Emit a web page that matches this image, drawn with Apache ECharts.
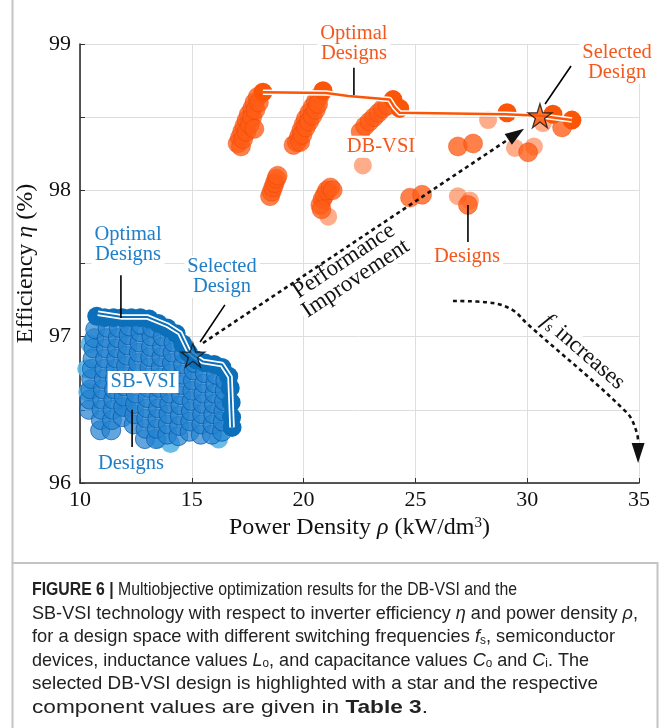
<!DOCTYPE html>
<html><head><meta charset="utf-8">
<script src="https://cdn.jsdelivr.net/npm/echarts@6/dist/echarts.min.js"></script>
<style>html,body{margin:0;padding:0;background:#fff}#c{width:665px;height:728px}</style>
</head><body><div id="c"></div>
<script>
// ---------------- DATA ----------------
const xTickValues = [10, 15, 20, 25, 30, 35];
const yTickValues = [96, 97, 98, 99];

// SB-VSI designs (power density kW/dm3, efficiency %)
const blueDesigns = [
  [10.40,96.50],[10.43,96.57],[10.46,96.64],[10.50,96.71],[10.53,96.78],[10.56,96.85],[10.60,96.92],[10.64,96.99],[10.68,97.05],
  [10.90,96.36],[10.93,96.43],[10.96,96.50],[10.99,96.57],[11.02,96.64],[11.06,96.71],[11.09,96.78],[11.12,96.85],[11.16,96.92],[11.19,96.99],[11.23,97.06],
  [11.40,96.36],[11.43,96.43],[11.46,96.50],[11.49,96.57],[11.52,96.64],[11.56,96.71],[11.59,96.78],[11.62,96.85],[11.66,96.92],[11.69,96.99],[11.73,97.06],
  [11.90,96.45],[11.93,96.52],[11.96,96.59],[12.00,96.66],[12.03,96.73],[12.06,96.80],[12.10,96.87],[12.13,96.94],[12.17,97.01],[12.20,97.07],
  [12.40,96.40],[12.43,96.47],[12.46,96.54],[12.50,96.61],[12.53,96.68],[12.56,96.75],[12.60,96.82],[12.63,96.89],[12.66,96.96],[12.70,97.03],[12.72,97.08],
  [12.90,96.30],[12.93,96.37],[12.96,96.44],[12.99,96.51],[13.02,96.58],[13.05,96.65],[13.08,96.72],[13.11,96.79],[13.14,96.86],[13.17,96.93],[13.20,97.00],[13.23,97.06],
  [13.40,96.30],[13.43,96.37],[13.46,96.44],[13.49,96.51],[13.52,96.58],[13.55,96.65],[13.58,96.72],[13.61,96.79],[13.64,96.86],[13.67,96.93],[13.70,97.00],
  [13.90,96.33],[13.93,96.40],[13.96,96.47],[13.99,96.54],[14.02,96.61],[14.05,96.68],[14.08,96.75],[14.11,96.82],[14.14,96.89],[14.18,96.96],
  [14.40,96.32],[14.43,96.39],[14.46,96.46],[14.49,96.53],[14.52,96.60],[14.55,96.67],[14.58,96.74],[14.61,96.81],[14.65,96.88],
  [14.90,96.35],[14.93,96.42],[14.96,96.49],[14.99,96.56],[15.02,96.63],[15.05,96.70],[15.08,96.77],[15.12,96.82],
  [15.40,96.33],[15.43,96.40],[15.46,96.47],[15.49,96.54],[15.52,96.61],[15.55,96.68],[15.58,96.75],
  [15.90,96.33],[15.93,96.40],[15.96,96.47],[15.99,96.54],[16.02,96.61],[16.05,96.68],[16.08,96.74],
  [16.35,96.35],[16.38,96.42],[16.41,96.49],[16.44,96.56],[16.47,96.63],[16.50,96.70]
];
const blueLightDesigns = [[10.35,96.62],[10.30,96.78],[10.45,96.95],[14.05,96.27],[13.50,96.30],[12.10,96.52],[16.20,96.30]];
const blueOptimal = [
  [10.75,97.14],[11.10,97.13],[11.50,97.13],[11.90,97.13],[12.30,97.13],[12.70,97.13],[13.10,97.12],[13.50,97.09],[13.90,97.06],
  [14.30,97.02],[14.60,96.95],[14.85,96.89],[15.20,96.84],[15.60,96.82],[16.00,96.81],[16.35,96.79],[16.65,96.73],
  [16.72,96.65],[16.76,96.55],[16.78,96.45],[16.80,96.38]
];
const blueFront = [[10.80,97.16],[11.88,97.135],[13.00,97.135],[13.89,97.08],[14.47,97.025],[14.83,96.91],[15.05,96.875],[15.50,96.83],[16.35,96.81],[16.71,96.725],[16.80,96.38]];
const blueSelected = [[15.05,96.875]];

// DB-VSI designs
const orangeDesigns = [
  [17.05,98.32],[17.15,98.36],[17.25,98.40],[17.35,98.44],[17.45,98.48],[17.55,98.52],[17.70,98.56],[17.80,98.60],[17.95,98.64],
  [17.20,98.30],[17.30,98.35],[17.45,98.40],[17.60,98.45],[17.70,98.50],[17.85,98.55],[18.00,98.60],[17.80,98.42],
  [19.55,98.31],[19.70,98.33],[19.80,98.37],[19.90,98.41],[20.00,98.45],[20.10,98.49],[20.25,98.53],[20.40,98.57],[20.55,98.61],[20.70,98.64],
  [19.85,98.33],[19.95,98.38],[20.10,98.43],[20.25,98.47],[20.40,98.51],[20.55,98.55],[20.65,98.59],
  [22.55,98.40],[22.75,98.44],[22.95,98.47],[23.15,98.50],[23.35,98.53],[23.55,98.56],[23.75,98.58],
  [18.50,97.96],[18.57,97.99],[18.64,98.02],[18.71,98.05],[18.78,98.08],[18.84,98.10],
  [20.75,97.90],[20.85,97.94],[20.95,97.97],[21.05,98.00],[21.20,98.02],[21.30,98.00],[20.80,97.87],
  [24.76,97.95],[25.30,97.97],[26.90,98.30],[27.58,98.32],[30.04,98.26],[31.56,98.43],[27.35,97.90]
];
const orangeLightDesigns = [[22.65,98.17],[21.10,97.82],[28.25,98.48],[30.70,98.46],[29.45,98.29],[30.30,98.30],[26.90,97.96],[27.44,97.93]];
const orangeOptimal = [[18.18,98.67],[20.87,98.68],[24.00,98.62],[24.30,98.56],[29.10,98.53],[31.15,98.52],[32.00,98.48]];
const orangeFront = [[18.18,98.67],[21.00,98.665],[22.00,98.645],[23.85,98.62],[24.05,98.57],[24.30,98.53],[29.00,98.52],[30.57,98.51],[32.00,98.48]];
const orangeSelected = [[30.57,98.51]];

// ---------------- STYLE ----------------
const BLUE = '#1f7fc8', BLUE_D = '#0b6fba', ORANGE = '#f4581c', ORANGE_D = '#fb5607';
const SERIF = "'Liberation Serif','Times New Roman',serif";
const SANS = "'Liberation Sans',Arial,sans-serif";
const STAR = 'path://M50,0 L61.2,34.5 L97.6,34.5 L68.2,55.9 L79.4,90.5 L50,69.1 L20.6,90.5 L31.8,55.9 L2.4,34.5 L38.8,34.5 Z';

const chart = echarts.init(document.getElementById('c'), null, {renderer: 'canvas'});

function scatter(data, color, opacity, size, border) {
  return {type: 'scatter', data, symbolSize: size, silent: true,
    itemStyle: {color, opacity, borderColor: border || 'transparent', borderWidth: border ? 1 : 0}};
}
function line(data, color, width) {
  return {type: 'line', data, symbol: 'none', silent: true, lineStyle: {color, width, join: 'round'}};
}

chart.setOption({
  animation: false,
  grid: {left: 80, right: 26, top: 44, bottom: 245},
  xAxis: {
    type: 'value', min: 10, max: 35, interval: 5,
    name: 'Power Density {i|ρ} (kW/dm{sup|3})', nameLocation: 'middle', nameGap: 30,
    nameTextStyle: {fontFamily: SERIF, fontSize: 24, color: '#111',
      rich: {i: {fontFamily: SERIF, fontSize: 24, fontStyle: 'italic', color: '#111'},
             sup: {fontFamily: SERIF, fontSize: 15, verticalAlign: 'top', color: '#111'}}},
    axisLine: {show: true, onZero: false, lineStyle: {color: '#222', width: 1.5}},
    axisTick: {show: true, inside: true, length: 5, lineStyle: {color: '#333'}},
    axisLabel: {fontFamily: SERIF, fontSize: 22, color: '#111', margin: 6},
    splitLine: {show: true, lineStyle: {color: '#dedede', width: 1}}
  },
  yAxis: {
    type: 'value', min: 96, max: 99, interval: 0.5,
    name: 'Efficiency {i|η} (%)', nameLocation: 'middle', nameGap: 38,
    nameTextStyle: {fontFamily: SERIF, fontSize: 24, color: '#111',
      rich: {i: {fontFamily: SERIF, fontSize: 24, fontStyle: 'italic', color: '#111'}}},
    axisLine: {show: true, onZero: false, lineStyle: {color: '#222', width: 1.5}},
    axisTick: {show: true, inside: true, length: 5, lineStyle: {color: '#333'}},
    axisLabel: {fontFamily: SERIF, fontSize: 22, color: '#111', margin: 9,
      formatter: v => (Math.abs(v - Math.round(v)) < 1e-6 ? String(Math.round(v)) : '')},
    splitLine: {show: true, lineStyle: {color: '#dedede', width: 1}}
  },
  series: [
    scatter(blueLightDesigns, '#5ab6e6', 0.9, 19),
    scatter(blueDesigns, 'rgba(38,132,208,0.72)', 1, 19, 'rgba(5,85,165,0.7)'),
    scatter(blueOptimal, BLUE_D, 1, 19),
    line(blueFront, '#ffffff', 5.5),
    line(blueFront, BLUE_D, 2),
    {type: 'scatter', data: blueSelected, symbol: STAR, symbolSize: 24, silent: true,
     itemStyle: {color: BLUE_D, borderColor: '#111', borderWidth: 1.3}, z: 5},
    scatter(orangeLightDesigns, 'rgba(255,95,30,0.52)', 1, 18),
    scatter(orangeDesigns, 'rgba(255,92,22,0.78)', 1, 19, 'rgba(225,65,5,0.4)'),
    scatter(orangeOptimal, ORANGE_D, 1, 19),
    line(orangeFront, '#ffffff', 5.5),
    line(orangeFront, ORANGE_D, 2.5),
    {type: 'scatter', data: orangeSelected, symbol: STAR, symbolSize: 24, silent: true,
     itemStyle: {color: ORANGE_D, borderColor: '#111', borderWidth: 1.3}, z: 5}
  ]
});

// ---------------- ANNOTATIONS (anchored in data coordinates) ----------------
const labelDefs = [
  {t: 'Optimal\nDesigns', c: ORANGE, at: [22.25, 99.0]},
  {t: 'DB-VSI', c: ORANGE, at: [23.46, 98.297]},
  {t: 'Selected\nDesign', c: ORANGE, at: [34.02, 98.87]},
  {t: 'Designs', c: ORANGE, at: [27.31, 97.545]},
  {t: 'Optimal\nDesigns', c: BLUE, at: [12.15, 97.627]},
  {t: 'Selected\nDesign', c: BLUE, at: [16.35, 97.408]},
  {t: 'SB-VSI', c: BLUE, at: [12.82, 96.69]},
  {t: 'Designs', c: BLUE, at: [12.28, 96.13]}
];
const leaderDefs = [
  [[22.25, 98.837], [22.25, 98.652]],
  [[31.96, 98.85], [30.80, 98.59]],
  [[27.35, 97.90], [27.35, 97.647]],
  [[11.83, 97.42], [11.83, 97.128]],
  [[16.48, 97.217], [15.37, 96.964]],
  [[12.33, 96.50], [12.33, 96.246]]
];
const perfArrow = {from: [15.5, 96.957], to: [29.86, 98.42], textAt: [22.07, 97.456]};
const fsCurve = {pts: [[26.68,97.244],[28.47,97.23],[29.37,97.18],[29.99,97.09],[34.46,96.48],[34.91,96.34],[34.96,96.25]],
                 tip: [34.96, 96.137], textAt: [32.5, 96.895], angleDeg: -41};

function P(p) { return chart.convertToPixel({xAxisIndex: 0, yAxisIndex: 0}, p); }
function arrowHead(tip, dir, len, half) {
  const n = Math.hypot(dir[0], dir[1]); const ux = dir[0] / n, uy = dir[1] / n;
  const bx = tip[0] - ux * len, by = tip[1] - uy * len;
  return {type: 'polygon', z: 100, shape: {points: [tip, [bx - uy * half, by + ux * half], [bx + uy * half, by - ux * half]]},
          style: {fill: '#111'}};
}

const g = [];
// frame
g.push({type: 'line', z: 1, shape: {x1: 12.5, y1: 0, x2: 12.5, y2: 563}, style: {stroke: '#c4c4c4', lineWidth: 2}});
g.push({type: 'rect', z: 1, shape: {x: 12.5, y: 563, width: 645, height: 180}, style: {fill: 'none', stroke: '#c4c4c4', lineWidth: 2}});

leaderDefs.forEach(([a, b]) => {
  const pa = P(a), pb = P(b);
  g.push({type: 'line', z: 90, shape: {x1: pa[0], y1: pa[1], x2: pb[0], y2: pb[1]}, style: {stroke: '#000', lineWidth: 1.6}});
});
labelDefs.forEach(d => {
  const p = P(d.at);
  g.push({type: 'text', z: 95, x: p[0], y: p[1], style: {text: d.t, fill: d.c, font: '20.5px ' + SERIF,
    align: 'center', verticalAlign: 'middle', lineHeight: 20, backgroundColor: '#fff', padding: [1, 3, 1, 3]}});
});
{
  const a = P(perfArrow.from), b = P(perfArrow.to);
  const dir = [b[0] - a[0], b[1] - a[1]]; const n = Math.hypot(dir[0], dir[1]);
  const end = [b[0] - dir[0] / n * 14, b[1] - dir[1] / n * 14];
  g.push({type: 'line', z: 98, shape: {x1: a[0], y1: a[1], x2: end[0], y2: end[1]},
    style: {stroke: '#111', lineWidth: 2.6, lineDash: [4, 3.5]}});
  g.push(arrowHead(b, dir, 19, 6.5));
  const t = P(perfArrow.textAt);
  g.push({type: 'text', z: 97, x: t[0], y: t[1], rotation: Math.atan2(-dir[1], dir[0]),
    style: {text: 'Performance\nImprovement', fill: '#111', font: '23px ' + SERIF, align: 'center', verticalAlign: 'middle',
      lineHeight: 21, backgroundColor: '#fff', padding: [0, 2, 0, 2]}});
}
{
  const pts = fsCurve.pts.map(P); const tip = P(fsCurve.tip);
  g.push({type: 'polyline', z: 98, shape: {points: pts, smooth: 0.35},
    style: {stroke: '#111', lineWidth: 2.6, lineDash: [4, 3.5], fill: null}});
  const last = pts[pts.length - 1];
  g.push(arrowHead(tip, [tip[0] - last[0], tip[1] - last[1]], 20, 6.5));
  const t = P(fsCurve.textAt);
  g.push({type: 'text', z: 97, x: t[0], y: t[1], rotation: fsCurve.angleDeg * Math.PI / 180,
    style: {text: '{i|f}{s|s}{n| increases}', align: 'center', verticalAlign: 'middle', backgroundColor: '#fff', padding: [0, 2, 0, 2],
      rich: {i: {font: 'italic 23px ' + SERIF, fill: '#111'}, s: {font: '15px ' + SERIF, fill: '#111', verticalAlign: 'bottom'},
             n: {font: '23px ' + SERIF, fill: '#111'}}}});
}

// caption (condensed to the reference line widths)
const captionLines = [
  '{b|FIGURE 6 |} Multiobjective optimization results for the DB-VSI and the',
  'SB-VSI technology with respect to inverter efficiency {i|η} and power density {i|ρ},',
  'for a design space with different switching frequencies {i|f}{s|s}, semiconductor',
  'devices, inductance values {i|L}{s|o}, and capacitance values {i|C}{s|o} and {i|C}{s|i}. The',
  'selected DB-VSI design is highlighted with a star and the respective',
  'component values are given in {b|Table 3}.'
];
const captionWidths = [485, 606, 583, 557, 566, 396];
const capFont = 18.5;
const capStyles = {
  '': capFont + 'px ' + SANS,
  b: 'bold ' + capFont + 'px ' + SANS,
  i: 'italic ' + capFont + 'px ' + SANS,
  s: '12px ' + SANS
};
const mctx = document.createElement('canvas').getContext('2d');
function richWidth(txt) {
  let w = 0, last = 0; const re = /\{(\w+)\|([^}]*)\}/g; let m;
  const seg = (s, k) => { mctx.font = capStyles[k]; w += mctx.measureText(s).width; };
  while ((m = re.exec(txt))) { seg(txt.slice(last, m.index), ''); seg(m[2], m[1]); last = re.lastIndex; }
  seg(txt.slice(last), '');
  return w;
}
captionLines.forEach((txt, k) => {
  const sx = captionWidths[k] / richWidth(txt);
  g.push({type: 'text', z: 50, x: 32, y: 590 + k * 23.5, scaleX: sx, scaleY: 1,
    style: {text: txt, font: capStyles[''], fill: '#222', verticalAlign: 'middle', align: 'left',
    rich: {b: {font: capStyles.b, fill: '#222'}, i: {font: capStyles.i, fill: '#222'},
           s: {font: capStyles.s, fill: '#222', verticalAlign: 'bottom'}}}});
});
chart.setOption({graphic: g});
</script>
</body></html>
